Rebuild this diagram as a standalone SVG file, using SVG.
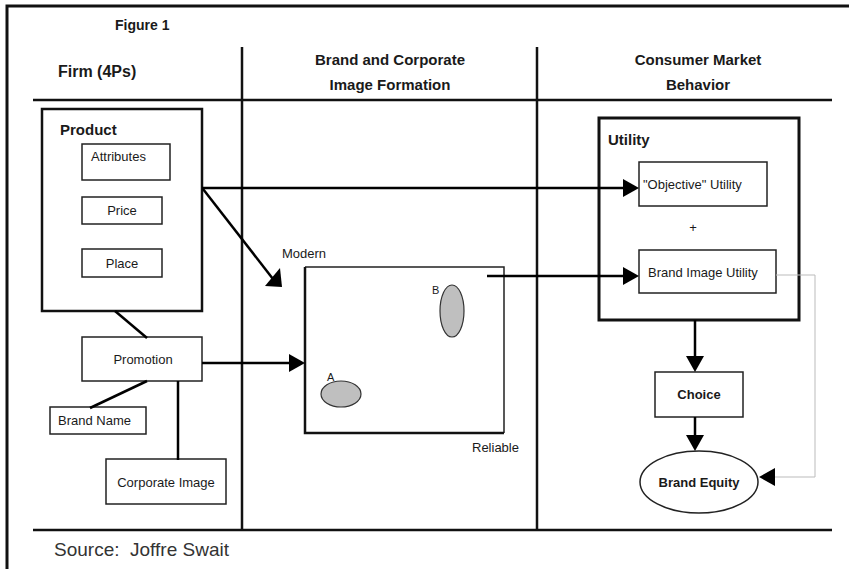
<svg xmlns="http://www.w3.org/2000/svg" width="849" height="569" viewBox="0 0 849 569">
<style>
text{font-family:"Liberation Sans",Arial,sans-serif;fill:#1a1a1a}
.h{font-size:15px;font-weight:bold}
.b{font-size:13px;font-weight:bold}
.t{font-size:13px}
.m{text-anchor:middle}
.frame{stroke:#111;stroke-width:3;fill:none}
.rule{stroke:#111;stroke-width:2.5;fill:none}
.box{fill:#fff;stroke:#222;stroke-width:1.5}
.big{fill:#fff;stroke:#111;stroke-width:2.5}
.con{stroke:#000;stroke-width:2.5;fill:none}
.thin{stroke:#bbb;stroke-width:1;fill:none}
.dot{fill:#bfbfbf;stroke:#333;stroke-width:1.2}
</style>
<defs>
<marker id="ah" viewBox="0 0 16 18" markerWidth="16" markerHeight="18" refX="10" refY="9" orient="auto" markerUnits="userSpaceOnUse">
<path d="M0,0 L16,9 L0,18 z" fill="#000"/>
</marker>
</defs>
<rect width="849" height="569" fill="#fff"/>
<g id="frame">
<path class="frame" d="M7,569 V6 H849"/>
<line class="rule" x1="33" y1="100" x2="832" y2="100"/>
<line class="rule" x1="33" y1="530" x2="832" y2="530"/>
<line class="rule" x1="242" y1="47" x2="242" y2="530"/>
<line class="rule" x1="537" y1="47" x2="537" y2="530"/>
<text x="115" y="30" style="font-size:14px;font-weight:bold">Figure 1</text>
<text x="58" y="77" style="font-size:16px;font-weight:bold">Firm (4Ps)</text>
<text x="390" y="65" class="h m">Brand and Corporate</text>
<text x="390" y="90" class="h m">Image Formation</text>
<text x="698" y="65" class="h m">Consumer Market</text>
<text x="698" y="90" class="h m">Behavior</text>
<text x="54" y="556" style="font-size:19px;fill:#333">Source:&#160; Joffre Swait</text>
</g>
<g id="product">
<rect class="big" x="42" y="109" width="160" height="202"/>
<text x="60" y="135" class="h">Product</text>
</g>
<g id="attributes">
<rect class="box" x="82" y="144" width="88" height="36"/>
<text x="91" y="161" class="t">Attributes</text>
</g>
<g id="price">
<rect class="box" x="82" y="197" width="80" height="27"/>
<text x="122" y="215" class="t m">Price</text>
</g>
<g id="place">
<rect class="box" x="82" y="249" width="80" height="28"/>
<text x="122" y="268" class="t m">Place</text>
</g>
<g id="promotion">
<rect class="box" x="82" y="337" width="120" height="44"/>
<text x="143" y="364" class="t m">Promotion</text>
</g>
<g id="brandname">
<rect class="box" x="50" y="407" width="96" height="27"/>
<text x="58" y="425" class="t">Brand Name</text>
</g>
<g id="corporateimage">
<rect class="box" x="106" y="459" width="120" height="45"/>
<text x="166" y="487" class="t m">Corporate Image</text>
</g>
<g id="map">
<path d="M305,267 H504 V433" fill="none" stroke="#222" stroke-width="1.5"/>
<path d="M305,267 V433 H504" fill="none" stroke="#111" stroke-width="2.5"/>
<text x="282" y="258" class="t">Modern</text>
<text x="472" y="452" class="t">Reliable</text>
<ellipse class="dot" cx="452" cy="311" rx="12" ry="26"/>
<text x="432" y="294" style="font-size:11px">B</text>
<ellipse class="dot" cx="341" cy="394" rx="20" ry="13"/>
<text x="327" y="381" style="font-size:11px">A</text>
</g>
<g id="utility">
<rect x="599" y="118" width="200" height="202" fill="#fff" stroke="#111" stroke-width="3"/>
<text x="608" y="145" class="h">Utility</text>
<text x="693" y="232" class="t m">+</text>
</g>
<g id="objective">
<rect class="box" x="639" y="162" width="128" height="44"/>
<text x="643" y="189" class="t">"Objective" Utility</text>
</g>
<g id="brandimage">
<rect class="box" x="639" y="250" width="137" height="43"/>
<text x="648" y="277" class="t">Brand Image Utility</text>
</g>
<g id="choice">
<rect class="box" x="655" y="372" width="88" height="45"/>
<text x="699" y="399" class="b m">Choice</text>
</g>
<g id="brandequity">
<ellipse class="box" cx="699" cy="482" rx="59" ry="31"/>
<text x="699" y="487" class="b m">Brand Equity</text>
</g>
<g id="connectors">
<line class="con" x1="202" y1="188" x2="633" y2="188" marker-end="url(#ah)"/>
<line class="con" x1="203" y1="189" x2="273" y2="279"/>
<polygon points="265,286 280,268 282,287" fill="#000"/>
<line class="con" x1="115" y1="311" x2="147" y2="338"/>
<line class="con" x1="202" y1="363" x2="299" y2="363" marker-end="url(#ah)"/>
<line class="con" x1="147" y1="381" x2="90" y2="408"/>
<line class="con" x1="178" y1="381" x2="178" y2="460"/>
<line class="con" x1="487" y1="276" x2="633" y2="276" marker-end="url(#ah)"/>
<line class="con" x1="695" y1="320" x2="695" y2="366" marker-end="url(#ah)"/>
<line class="con" x1="695" y1="417" x2="695" y2="445" marker-end="url(#ah)"/>
<polyline class="thin" points="776,275 815,275 815,477 765,477" marker-end="url(#ah)"/>
</g>
</svg>
